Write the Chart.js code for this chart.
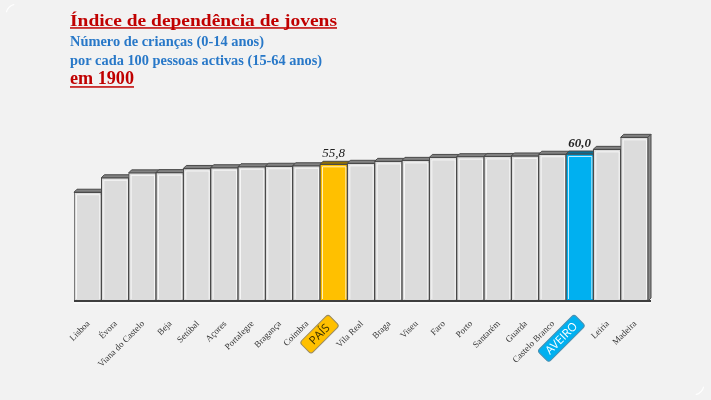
<!DOCTYPE html>
<html>
<head>
<meta charset="utf-8">
<script src="https://cdn.jsdelivr.net/npm/chart.js@4.4.1/dist/chart.umd.min.js"></script>
<style>
  html, body { margin: 0; padding: 0; background: #f2f2f2; overflow: hidden; }
  #wrap { position: relative; width: 711px; height: 400px; }
</style>
</head>
<body>
<div id="wrap"><canvas id="c" width="711" height="400"></canvas></div>
<script>
// ---- data ----
const categories = ['Lisboa','Évora','Viana do Castelo','Beja','Setúbal','Açores','Portalegre','Bragança','Coimbra','PAÍS','Vila Real','Braga','Viseu','Faro','Porto','Santarém','Guarda','Castelo Branco','AVEIRO','Leiria','Madeira'];
const values = [44.4, 50.3, 52.3, 52.4, 54.1, 54.4, 54.8, 55.0, 55.2, 55.8, 56.2, 57.0, 57.4, 58.6, 58.9, 59.0, 59.2, 59.9, 60.0, 61.9, 66.8];
const labelledBars = ['PAÍS', 'AVEIRO'];
const titleLines = ['Índice de dependência de jovens', 'Número de crianças (0-14 anos)', 'por cada 100 pessoas activas (15-64 anos)', 'em 1900'];

// ---- styles ----
const styleFor = {
  'PAÍS':   { fill: '#ffc000', top: '#8f6f05', box: '#ffc000', boxEdge: '#9a8a60', text: '#3a3000' },
  'AVEIRO': { fill: '#00b0f0', top: '#0b6e93', box: '#00b0f0', boxEdge: '#4a8fb0', text: '#ffffff' }
};
const grey = { fill: '#dcdcdc', top: '#828282' };
const fillColors = categories.map(c => (styleFor[c] || grey).fill);
const topColors = categories.map(c => (styleFor[c] || grey).top);

function fmt(v) { return v.toFixed(1).replace('.', ','); }

function drawFit(ctx, text, x, y, font, w, color) {
  ctx.save();
  ctx.font = font; ctx.fillStyle = color;
  ctx.textAlign = 'left'; ctx.textBaseline = 'alphabetic';
  const m = ctx.measureText(text).width;
  ctx.translate(x, y); ctx.scale(w / m, 1);
  ctx.fillText(text, 0, 0);
  ctx.restore();
}

function roundRect(ctx, x, y, w, h, r) {
  ctx.beginPath();
  ctx.moveTo(x + r, y);
  ctx.lineTo(x + w - r, y); ctx.quadraticCurveTo(x + w, y, x + w, y + r);
  ctx.lineTo(x + w, y + h - r); ctx.quadraticCurveTo(x + w, y + h, x + w - r, y + h);
  ctx.lineTo(x + r, y + h); ctx.quadraticCurveTo(x, y + h, x, y + h - r);
  ctx.lineTo(x, y + r); ctx.quadraticCurveTo(x, y, x + r, y);
  ctx.closePath();
}

const depth = 3;

const decor = {
  id: 'decor',
  beforeDraw(chart) {
    const ctx = chart.ctx;
    ctx.save();
    ctx.fillStyle = '#f2f2f2';
    ctx.fillRect(0, 0, chart.width, chart.height);
    // faint frame corners
    ctx.strokeStyle = 'rgba(255,255,255,0.9)';
    ctx.lineWidth = 1.2;
    ctx.beginPath(); ctx.arc(17, 15, 11, Math.PI * 1.08, Math.PI * 1.42); ctx.stroke();
    ctx.beginPath(); ctx.arc(693, 384, 11, Math.PI * 0.08, Math.PI * 0.42); ctx.stroke();
    // titles
    const red = '#c00000', blue = '#2878c8';
    drawFit(ctx, titleLines[0], 70, 25.7, 'bold 17.5px "Liberation Serif"', 267, red);
    ctx.fillStyle = red; ctx.fillRect(70, 27.2, 267, 1.5);
    drawFit(ctx, titleLines[1], 70, 45.7, 'bold 14px "Liberation Serif"', 194, blue);
    drawFit(ctx, titleLines[2], 70, 65, 'bold 14px "Liberation Serif"', 252, blue);
    drawFit(ctx, titleLines[3], 70, 84.3, 'bold 18px "Liberation Serif"', 64, red);
    ctx.fillStyle = red; ctx.fillRect(70, 86.2, 64, 1.5);
    ctx.restore();
  },
  beforeDatasetsDraw(chart) {
    const ctx = chart.ctx;
    const meta = chart.getDatasetMeta(0);
    const last = meta.data.length - 1;
    ctx.save();
    ctx.lineJoin = 'round';
    meta.data.forEach((b, i) => {
      const p = b.getProps(['x', 'y', 'width', 'base'], true);
      const l = p.x - p.width / 2, r = p.x + p.width / 2;
      // top face
      ctx.beginPath();
      ctx.moveTo(l, p.y); ctx.lineTo(l + depth, p.y - depth);
      ctx.lineTo(r + depth, p.y - depth); ctx.lineTo(r, p.y); ctx.closePath();
      ctx.fillStyle = topColors[i]; ctx.fill();
      ctx.strokeStyle = '#4a4a4a'; ctx.lineWidth = 1; ctx.stroke();
      if (i === last) {
        ctx.beginPath();
        ctx.moveTo(r, p.y); ctx.lineTo(r + depth, p.y - depth);
        ctx.lineTo(r + depth, p.base - depth); ctx.lineTo(r, p.base); ctx.closePath();
        ctx.fillStyle = '#8a8a8a'; ctx.fill();
        ctx.strokeStyle = '#4a4a4a'; ctx.stroke();
      }
    });
    ctx.restore();
  },
  afterDatasetsDraw(chart) {
    const ctx = chart.ctx;
    const meta = chart.getDatasetMeta(0);
    ctx.save();
    meta.data.forEach((b, i) => {
      const p = b.getProps(['x', 'y', 'width', 'base'], true);
      const l = p.x - p.width / 2, r = p.x + p.width / 2;
      // inner highlight
      ctx.strokeStyle = 'rgba(255,255,255,0.75)';
      ctx.lineWidth = 1;
      ctx.beginPath();
      ctx.moveTo(l + 2.5, p.base - 2); ctx.lineTo(l + 2.5, p.y + 2.5);
      ctx.lineTo(r - 1.5, p.y + 2.5); ctx.lineTo(r - 1.5, p.base - 2);
      ctx.stroke();
      // value labels
      if (labelledBars.includes(categories[i])) {
        ctx.fillStyle = '#222';
        ctx.font = (categories[i] === 'AVEIRO' ? 'bold ' : '') + 'italic 13px "Liberation Serif"';
        ctx.textAlign = 'center'; ctx.textBaseline = 'alphabetic';
        ctx.fillText(fmt(values[i]), p.x, p.y - 7);
      }
    });
    // baseline
    const area = chart.chartArea;
    ctx.fillStyle = '#3e3e3e';
    ctx.fillRect(area.left, area.bottom - 1, area.right - area.left + depth, 2);
    ctx.fillStyle = '#ffffff';
    ctx.fillRect(area.left, area.bottom + 1.5, area.right - area.left + depth, 1);
    ctx.restore();
  },
  afterDraw(chart) {
    const ctx = chart.ctx;
    const meta = chart.getDatasetMeta(0);
    meta.data.forEach((b, i) => {
      const name = categories[i];
      const s = styleFor[name];
      ctx.save();
      if (s) {
        ctx.translate(b.x, 320);
        ctx.rotate(-Math.PI / 4);
        ctx.font = '11.5px "Open Sans"';
        const tw = ctx.measureText(name).width;
        const w = Math.max(tw + 12, 40), h = 16;
        roundRect(ctx, -w, -h / 2, w, h, 3);
        ctx.fillStyle = s.box; ctx.fill();
        ctx.strokeStyle = s.boxEdge; ctx.lineWidth = 1; ctx.stroke();
        ctx.fillStyle = s.text;
        ctx.textAlign = 'center'; ctx.textBaseline = 'middle';
        ctx.fillText(name, -w / 2, 0.5);
      } else {
        ctx.translate(b.x + 1, 322.5);
        ctx.rotate(-Math.PI / 4);
        ctx.font = '9px "Liberation Serif"';
        ctx.fillStyle = '#333333';
        ctx.textAlign = 'right'; ctx.textBaseline = 'middle';
        ctx.fillText(name, 0, 0);
      }
      ctx.restore();
    });
  }
};

new Chart(document.getElementById('c'), {
  type: 'bar',
  data: {
    labels: categories,
    datasets: [{
      data: values,
      backgroundColor: fillColors,
      borderColor: '#4a4a4a',
      borderWidth: 1,
      borderSkipped: false,
      categoryPercentage: 1,
      barPercentage: 1
    }]
  },
  options: {
    responsive: false,
    animation: false,
    devicePixelRatioOverride: 1,
    layout: { padding: { left: 74, right: 63, top: 129.5, bottom: 99 } },
    plugins: { legend: { display: false }, title: { display: false }, tooltip: { enabled: false } },
    scales: {
      x: { display: false },
      y: { display: false, min: 0, max: 70 }
    }
  },
  plugins: [decor]
});
</script>
</body>
</html>
